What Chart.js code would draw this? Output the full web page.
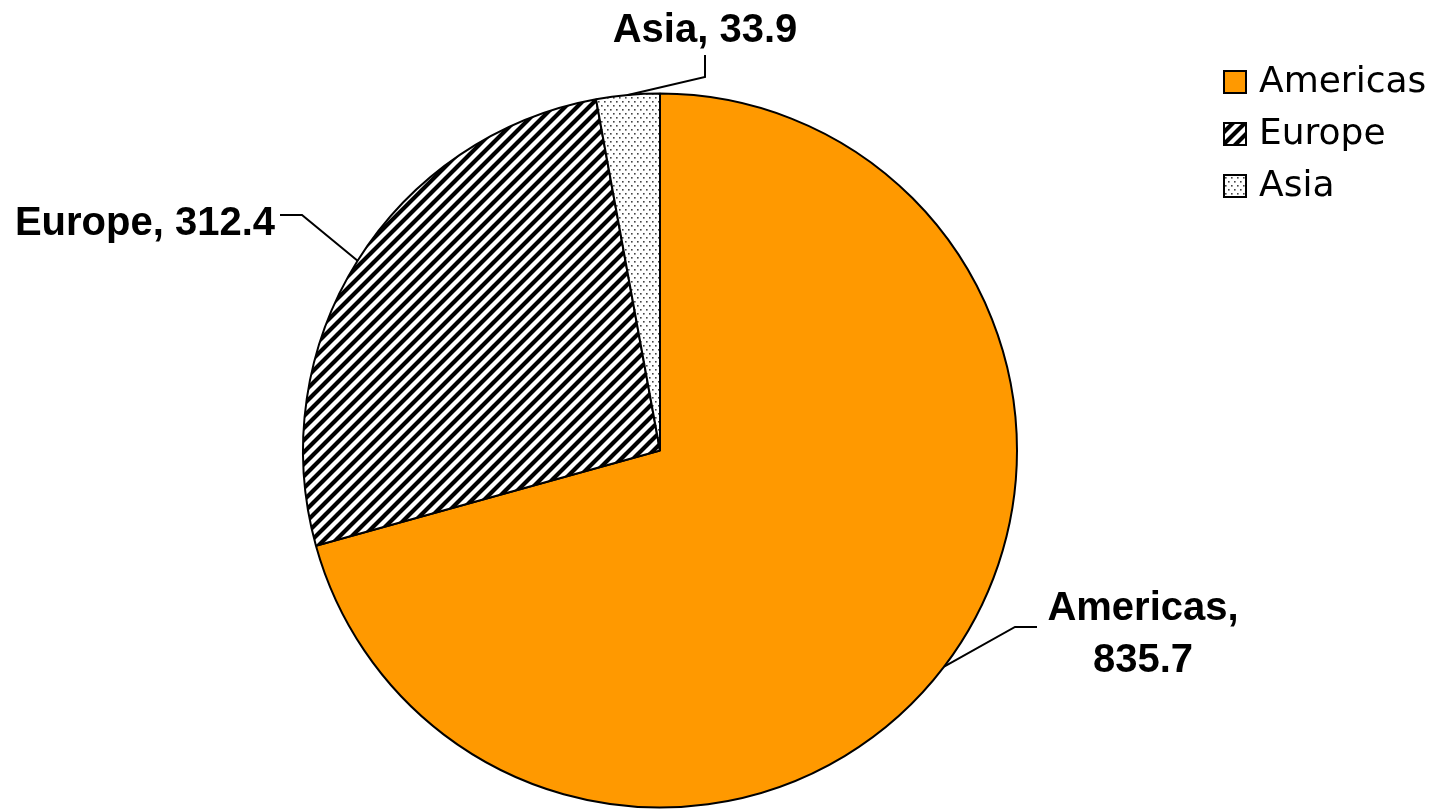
<!DOCTYPE html>
<html>
<head>
<meta charset="utf-8">
<title>Regions</title>
<script src="https://cdn.jsdelivr.net/npm/chart.js@4"></script>
<style>
  html, body { margin: 0; padding: 0; background: #fff; }
  canvas { display: block; }
</style>
</head>
<body>
<canvas id="regioes" width="1440" height="809"></canvas>
<script>
// dados
const regioes = ['Americas', 'Europe', 'Asia'];
const valores = [835.7, 312.4, 33.9];

// padrões de preenchimento (laranja, listras diagonais, pontilhado)
function listras() {
    const c = document.createElement('canvas');
    const s = 12;
    c.width = s; c.height = s;
    const g = c.getContext('2d');
    g.fillStyle = '#fff';
    g.fillRect(0, 0, s, s);
    g.strokeStyle = '#000';
    g.lineWidth = 4.2;
    g.beginPath();
    g.moveTo(-2, s + 2); g.lineTo(s + 2, -2);
    g.moveTo(-s - 2, s + 2); g.lineTo(2, -2);
    g.moveTo(-2, 2 * s + 2); g.lineTo(s + 2, s - 2);
    g.stroke();
    return g.createPattern(c, 'repeat');
}

function pontos() {
    const c = document.createElement('canvas');
    c.width = 6; c.height = 8;
    const g = c.getContext('2d');
    g.fillStyle = '#fff';
    g.fillRect(0, 0, 6, 8);
    g.fillStyle = '#444';
    g.fillRect(1, 1, 1.6, 1.6);
    g.fillRect(4, 5, 1.6, 1.6);
    return g.createPattern(c, 'repeat');
}

const cores = ['#FF9900', listras(), pontos()];

// posição dos rótulos e cotovelos das linhas de chamada
const rotulos = [
    { linhas: ['Americas,', '835.7'], x: 1143, y: 620, alinh: 'center', cotovelo: [[1037, 627], [1015, 627]] },
    { linhas: ['Europe, 312.4'], x: 275, y: 235, alinh: 'right', cotovelo: [[280, 215], [302, 215]] },
    { linhas: ['Asia, 33.9'], x: 705, y: 42, alinh: 'center', cotovelo: [[705, 55], [705, 77]] }
];

const rotulosPlugin = {
    id: 'rotulos',
    afterDraw(chart) {
        const ctx = chart.ctx;
        const arcos = chart.getDatasetMeta(0).data;
        ctx.save();
        ctx.font = 'bold 40px "Liberation Sans", Arial, sans-serif';
        ctx.fillStyle = '#000';
        ctx.textBaseline = 'alphabetic';
        rotulos.forEach((r, i) => {
            ctx.textAlign = r.alinh;
            r.linhas.forEach((t, k) => ctx.fillText(t, r.x, r.y + k * 52));
            const a = arcos[i];
            const meio = (a.startAngle + a.endAngle) / 2;
            const px = a.x + a.outerRadius * Math.cos(meio);
            const py = a.y + a.outerRadius * Math.sin(meio);
            ctx.strokeStyle = '#000';
            ctx.lineWidth = 2;
            ctx.beginPath();
            ctx.moveTo(r.cotovelo[0][0], r.cotovelo[0][1]);
            ctx.lineTo(r.cotovelo[1][0], r.cotovelo[1][1]);
            ctx.lineTo(px, py);
            ctx.stroke();
        });

        // legenda
        ctx.font = '36px "DejaVu Sans", sans-serif';
        ctx.textAlign = 'left';
        ctx.textBaseline = 'middle';
        regioes.forEach((nome, i) => {
            const y = 82 + i * 52;
            ctx.fillStyle = cores[i];
            ctx.fillRect(1224, y - 11, 22, 22);
            ctx.strokeStyle = '#000';
            ctx.lineWidth = 2;
            ctx.strokeRect(1224, y - 11, 22, 22);
            ctx.fillStyle = '#000';
            ctx.fillText(nome, 1259, y + 1);
        });
        ctx.restore();
    }
};

const ctx = document.getElementById('regioes').getContext('2d');
const grafico = new Chart(ctx, {
    type: 'pie',
    data: {
        labels: regioes,
        datasets: [{
            data: valores,
            backgroundColor: cores,
            borderColor: '#000',
            borderWidth: 2
        }]
    },
    options: {
        responsive: false,
        animation: false,
        devicePixelRatio: 1,
        layout: { padding: { top: 92, bottom: 0, left: 302, right: 422 } },
        plugins: {
            legend: { display: false },
            tooltip: { enabled: false }
        }
    },
    plugins: [rotulosPlugin]
});
</script>
</body>
</html>
